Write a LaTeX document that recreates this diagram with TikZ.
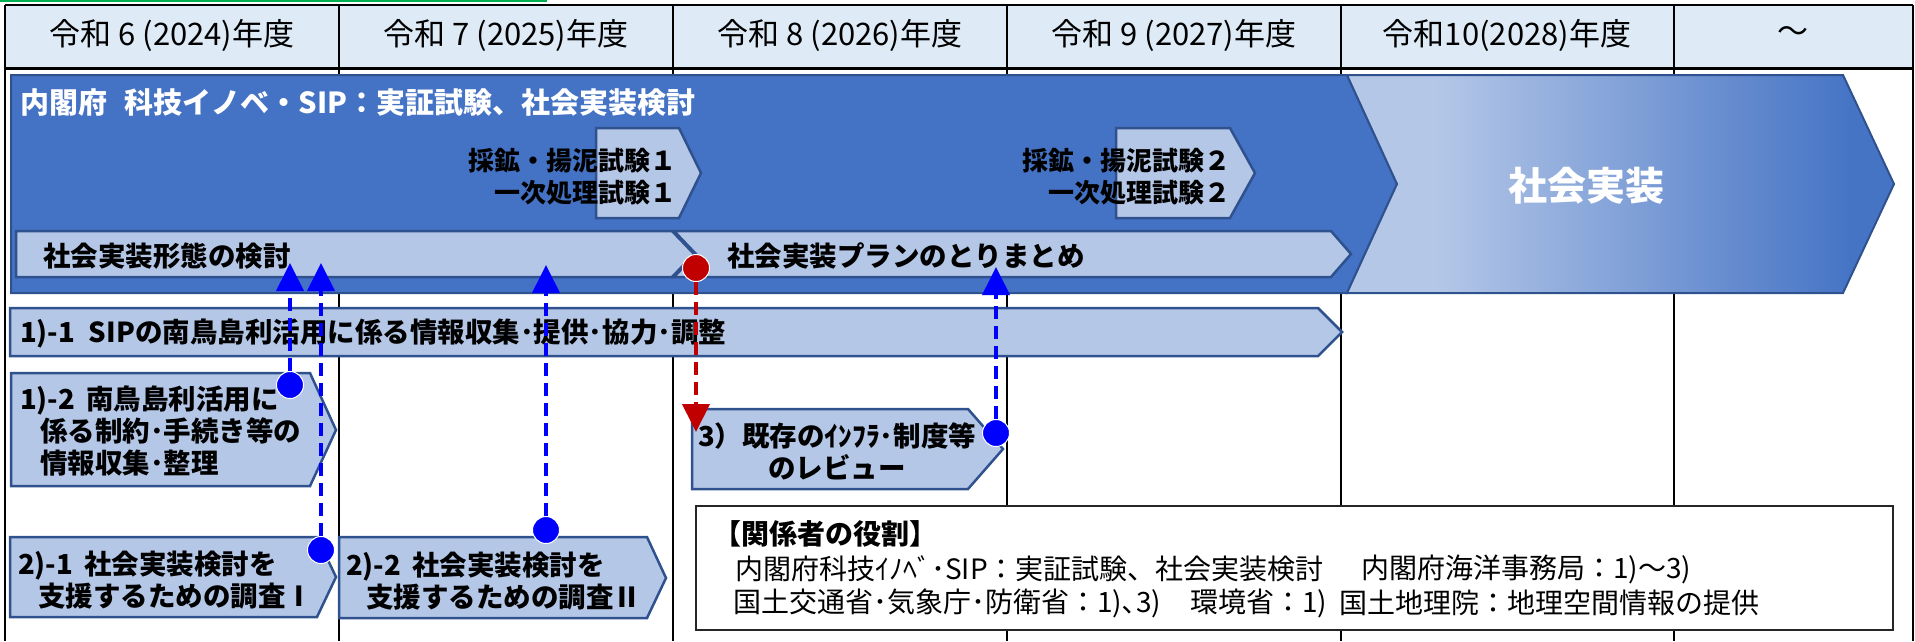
\documentclass[tikz,border=0pt]{standalone}
\usepackage{fontspec}
\setmainfont{Noto Sans CJK JP}
\usetikzlibrary{arrows.meta}

\definecolor{hdrblue}{HTML}{DEEBF7}
\definecolor{mainblue}{HTML}{4472C4}
\definecolor{edgeblue}{HTML}{2F528F}
\definecolor{paleblue}{HTML}{B4C7E7}
\definecolor{gradblue}{HTML}{4674C5}
\definecolor{dotblue}{HTML}{0000FF}
\definecolor{dotred}{HTML}{C00000}
\definecolor{selgreen}{HTML}{00B050}

\pgfdeclarehorizontalshading{implshade}{100bp}{color(0bp)=(paleblue); color(25bp)=(paleblue); color(33bp)=(paleblue); color(71bp)=(gradblue); color(100bp)=(gradblue)}

\newcommand{\hdrfont}{\fontsize{31}{36}\selectfont}
\newcommand{\taskfont}{\fontsize{27.5}{32}\selectfont\bfseries}
\newcommand{\trialfont}{\fontsize{26}{32}\selectfont\bfseries}
\newcommand{\titlefnt}{\fontsize{29}{34}\selectfont\bfseries}
\newcommand{\implfont}{\fontsize{39}{46}\selectfont\bfseries}
\newcommand{\rolefont}{\fontsize{28}{34}\selectfont}

\tikzset{
  taskbox/.style={draw=edgeblue, fill=paleblue, line width=2.5},
  txt/.style={anchor=west, inner sep=0},
  bluedot/.style={circle, fill=dotblue, draw=white, line width=1, minimum size=27, inner sep=0},
  reddot/.style={bluedot, fill=dotred},
  bluelink/.style={dotblue, line width=4, dash pattern=on 13pt off 7pt, -{Triangle[length=28pt,width=27pt]}},
  redlink/.style={bluelink, dotred}
}

\begin{document}
\begin{tikzpicture}[x=1pt, y=-1pt]
  \useasboundingbox (0,0) rectangle (1915,641);

  \draw[selgreen, line width=2] (0,1) -- (547,1);

  \fill[hdrblue] (5,5) rectangle (1913,67);
  \foreach \x in {5,339,673,1007,1341,1674,1913}
    \draw[line width=2] (\x,5) -- (\x,641);
  \draw[line width=2] (5,5) -- (1913,5);
  \draw[line width=3] (5,68) -- (1913,68);
  \foreach \x/\yr [count=\i] in {172/{令和 6 (2024)年度}, 506/{令和 7 (2025)年度}, 840/{令和 8 (2026)年度}, 1174/{令和 9 (2027)年度}, 1507/{令和10(2028)年度}, 1793/{～}}
    \node[font=\hdrfont] (hdr\i) at (\x,35) {\yr};

  \draw[draw=edgeblue, fill=mainblue, line width=2] (11,75) -- (1347,75) -- (1397,184) -- (1347,293) -- (11,293) -- cycle;
  \shadedraw[draw=edgeblue, shading=implshade, line width=2] (1347,75) -- (1843,75) -- (1894,184) -- (1843,293) -- (1347,293) -- (1397,184) -- cycle;
  \node[font=\implfont, text=white] (impl) at (1586,186) {社会実装};
  \node[txt, font=\titlefnt, text=white] (sip) at (20,103) {内閣府\hspace{0.6em}科技イノベ・SIP：実証試験、社会実装検討};

  \draw[taskbox] (596,128) -- (679,128) -- (701,173) -- (679,218) -- (596,218) -- cycle;
  \draw[taskbox] (1116,128) -- (1230,128) -- (1255,173) -- (1230,218) -- (1116,218) -- cycle;
  \node[anchor=east, inner sep=0, align=right, font=\trialfont] (trial1) at (677,177) {採鉱・揚泥試験１\\一次処理試験１};
  \node[anchor=east, inner sep=0, align=right, font=\trialfont] (trial2) at (1231,177) {採鉱・揚泥試験２\\一次処理試験２};

  \draw[taskbox] (674,231) -- (1331,231) -- (1351,254) -- (1331,277) -- (674,277) -- (696,254) -- cycle;
  \draw[taskbox] (16,231) -- (672,231) -- (694,254) -- (672,277) -- (16,277) -- cycle;
  \node[txt, font=\taskfont] (form) at (43,256) {社会実装形態の検討};
  \node[txt, font=\taskfont] (plan) at (727,256) {社会実装プランのとりまとめ};

  \draw[taskbox] (10,308) -- (1318,308) -- (1342,332) -- (1318,356) -- (10,356) -- cycle;
  \node[txt, font=\taskfont] (info) at (20,333) {1)-1\hspace{0.5em}SIPの南鳥島利活用に係る情報収集･提供･協力･調整};

  \draw[taskbox] (11,373) -- (310,373) -- (336,430) -- (310,486) -- (11,486) -- cycle;
  \node[txt, align=left, font=\taskfont] (rule) at (20,431) {1)-2\hspace{0.4em}南鳥島利活用に\\\hspace*{20pt}係る制約･手続き等の\\\hspace*{20pt}情報収集･整理};

  \draw[taskbox] (10,537) -- (317,537) -- (336,577) -- (317,617) -- (10,617) -- cycle;
  \draw[taskbox] (339,537) -- (647,537) -- (666,578) -- (647,618) -- (339,618) -- cycle;
  \node[txt, align=left, font=\taskfont] (survey1) at (18,580) {2)-1\hspace{0.4em}社会実装検討を\\\hspace*{20pt}支援するための調査Ⅰ};
  \node[txt, align=left, font=\taskfont] (survey2) at (346,581) {2)-2\hspace{0.4em}社会実装検討を\\\hspace*{20pt}支援するための調査Ⅱ};

  \draw[taskbox] (692,409) -- (968,409) -- (1003,449) -- (968,489) -- (692,489) -- cycle;
  \node[inner sep=0, align=center, font=\taskfont] (review) at (837,451) {3）既存のｲﾝﾌﾗ･制度等\\のレビュー};

  \draw[draw=black!85, fill=white, line width=1.5] (696,506) rectangle (1893,630);
  \node[txt, font=\rolefont\bfseries] (roles) at (713,534) {【関係者の役割】};
  \node[txt, font=\rolefont] (roleSIP) at (735,569) {内閣府科技ｲﾉﾍﾞ･SIP：実証試験、社会実装検討};
  \node[txt, font=\rolefont] (roleOcean) at (1361,569) {内閣府海洋事務局：1)～3)};
  \node[txt, font=\rolefont] (roleMLIT) at (733,603) {国土交通省･気象庁･防衛省：1)､3)};
  \node[txt, font=\rolefont] (roleEnv) at (1190,603) {環境省：1)};
  \node[txt, font=\rolefont] (roleGSI) at (1339,603) {国土地理院：地理空間情報の提供};

  \coordinate (tipA) at (290,263);
  \coordinate (tipB) at (321,263);
  \coordinate (tipC) at (546,265);
  \coordinate (tipD) at (996,267);
  \coordinate (tipR) at (696,432);
  \node[bluedot] (dotA) at (290,385) {};
  \node[bluedot] (dotB) at (321,550) {};
  \node[bluedot] (dotC) at (546,530) {};
  \node[bluedot] (dotD) at (996,433) {};
  \node[reddot] (dotR) at (696,268) {};
  \draw[bluelink] (dotA) -- (tipA);
  \draw[bluelink] (dotB) -- (tipB);
  \draw[bluelink] (dotC) -- (tipC);
  \draw[bluelink] (dotD) -- (tipD);
  \draw[redlink] (dotR) -- (tipR);
\end{tikzpicture}
\end{document}
